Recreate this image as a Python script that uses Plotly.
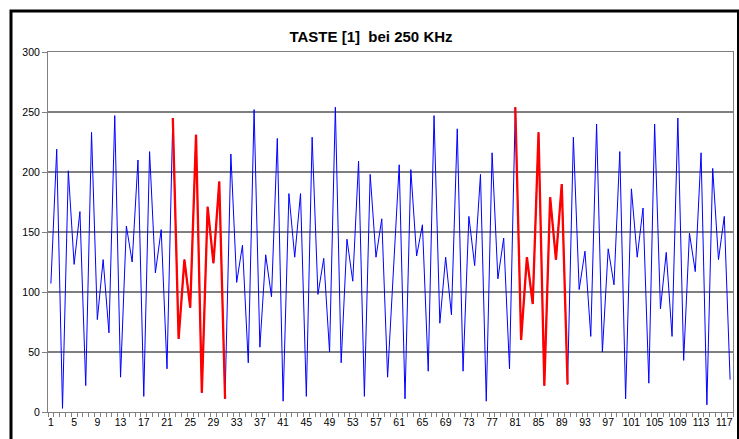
import plotly.graph_objects as go

# ---- data ----
values = [107, 219, 3, 201, 123, 167, 22, 233, 77, 127,
          66, 247, 29, 155, 125, 210, 13, 217, 116, 152,
          36, 245, 61, 127, 87, 231, 16, 171, 124, 192,
          11, 215, 108, 139, 41, 252, 54, 131, 96, 228,
          9, 182, 129, 182, 13, 229, 98, 128, 50, 254,
          41, 144, 109, 209, 13, 198, 129, 161, 29, 117,
          206, 11, 202, 130, 156, 34, 247, 74, 129, 81,
          236, 34, 163, 122, 198, 9, 216, 111, 145, 36,
          254, 60, 129, 90, 233, 22, 179, 127, 190, 23,
          229, 102, 134, 63, 240, 50, 136, 106, 217, 11,
          186, 129, 170, 24, 240, 86, 133, 63, 245, 43,
          149, 117, 216, 6, 203, 127, 163, 27]
categories = list(range(1, len(values) + 1))
red_ranges = [(22, 31), (81, 90)]
x_tick_labels = list(range(1, 118, 4))
y_ticks = [0, 50, 100, 150, 200, 250, 300]
title_text = "TASTE [1] \u00a0bei 250 KHz"

red_values = [v if any(a <= c <= b for a, b in red_ranges) else None
              for c, v in zip(categories, values)]

W, H = 739, 439
L, R, T, B = 48, 6, 52, 27
pw, ph = W - L - R, H - T - B


def px2paper_x(px):
    return (px - L) / pw


def px2paper_y(py):
    return (H - B - py) / ph


fig = go.Figure()
fig.add_trace(go.Scatter(x=categories, y=values, mode="lines",
                         line=dict(color="#0000FF", width=1),
                         hoverinfo="skip", showlegend=False))
fig.add_trace(go.Scatter(x=categories, y=red_values, mode="lines",
                         line=dict(color="#FF0000", width=2.3),
                         connectgaps=False,
                         hoverinfo="skip", showlegend=False))

# horizontal gridlines
for v in y_ticks[1:-1]:
    fig.add_shape(type="line", xref="paper", yref="y", x0=0, x1=1, y0=v, y1=v,
                  line=dict(color="#000000", width=1), layer="below")

# outer chart border
fig.add_shape(type="rect", xref="paper", yref="paper",
              x0=px2paper_x(11), x1=px2paper_x(738.5),
              y0=px2paper_y(448), y1=px2paper_y(11),
              line=dict(color="#000000", width=3), layer="above")

fig.update_layout(
    width=W, height=H,
    margin=dict(l=L, r=R, t=T, b=B, pad=0),
    paper_bgcolor="white", plot_bgcolor="white",
    font=dict(family="Liberation Sans, Arial", color="#000000"),
    title=dict(text="<b>" + title_text + "</b>", xref="container", yref="container",
               x=371 / W, xanchor="center", y=1 - 37 / H, yanchor="middle",
               font=dict(size=15, family="Liberation Sans, Arial", color="#000000")),
    xaxis=dict(range=[0.5, len(values) + 0.5], tickmode="array",
               tickvals=x_tick_labels, ticktext=[str(t) for t in x_tick_labels],
               ticks="", ticklen=0, showgrid=False, zeroline=False,
               showline=True, linecolor="#808080", linewidth=1, mirror=True,
               tickfont=dict(size=10.5),
               minor=dict(tickmode="linear", tick0=0.5, dtick=1, ticks="outside",
                          ticklen=4, tickcolor="#808080", tickwidth=1, showgrid=False)),
    yaxis=dict(range=[0, 300], tickmode="array", tickvals=y_ticks,
               ticks="outside", ticklen=5, tickcolor="#808080",
               showgrid=False, zeroline=False,
               showline=True, linecolor="#808080", linewidth=1, mirror=True,
               tickfont=dict(size=10.5)),
)

fig.write_html("out.html")
